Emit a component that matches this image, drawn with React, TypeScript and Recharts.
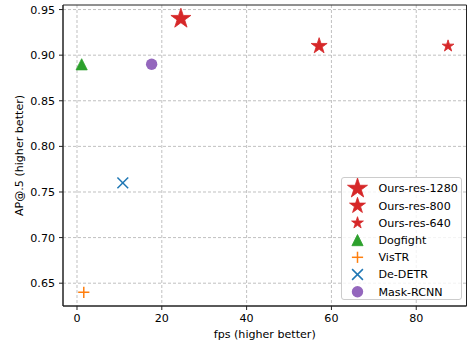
import React from "react";
import {
  ScatterChart,
  Scatter,
  XAxis,
  YAxis,
  CartesianGrid,
  ReferenceArea,
} from "recharts";

const methods = [
  "Ours-res-1280",
  "Ours-res-800",
  "Ours-res-640",
  "Dogfight",
  "VisTR",
  "De-DETR",
  "Mask-RCNN",
];
const fpsValues = [24.5, 57.1, 87.5, 1.1, 1.6, 10.8, 17.6];
const apValues = [0.94, 0.91, 0.91, 0.89, 0.64, 0.76, 0.89];
const xTicks = [0, 20, 40, 60, 80];
const yTicks = [0.65, 0.7, 0.75, 0.8, 0.85, 0.9, 0.95];
const xDomain: [number, number] = [-3.3, 91.85];
const yDomain: [number, number] = [0.625, 0.955];

// marker style per method (kind, colour, size)
const markerStyles = [
  { kind: "star", color: "#d62728", size: 10.5 },
  { kind: "star", color: "#d62728", size: 8.4 },
  { kind: "star", color: "#d62728", size: 6.2 },
  { kind: "triangle", color: "#2ca02c", size: 5.6 },
  { kind: "plus", color: "#ff7f0e", size: 5.6 },
  { kind: "x", color: "#1f77b4", size: 5.4 },
  { kind: "circle", color: "#9467bd", size: 5.7 },
];

const FONT = "DejaVu Sans, sans-serif";
const FS = 11.1;

function Marker({ kind, color, size, cx, cy }: any) {
  if (kind === "star") {
    const pts: string[] = [];
    for (let i = 0; i < 10; i++) {
      const r = i % 2 === 0 ? size : size * 0.382;
      const a = (-90 + i * 36) * (Math.PI / 180);
      pts.push(`${cx + r * Math.cos(a)},${cy + r * Math.sin(a)}`);
    }
    return <polygon points={pts.join(" ")} fill={color} stroke={color} strokeWidth={0.8} />;
  }
  if (kind === "triangle") {
    const s = size;
    return (
      <polygon
        points={`${cx},${cy - s} ${cx - s},${cy + s} ${cx + s},${cy + s}`}
        fill={color}
        stroke={color}
        strokeWidth={0.8}
      />
    );
  }
  if (kind === "plus") {
    return (
      <g stroke={color} strokeWidth={1.5}>
        <line x1={cx - size} y1={cy} x2={cx + size} y2={cy} />
        <line x1={cx} y1={cy - size} x2={cx} y2={cy + size} />
      </g>
    );
  }
  if (kind === "x") {
    return (
      <g stroke={color} strokeWidth={1.5}>
        <line x1={cx - size} y1={cy - size} x2={cx + size} y2={cy + size} />
        <line x1={cx - size} y1={cy + size} x2={cx + size} y2={cy - size} />
      </g>
    );
  }
  return <circle cx={cx} cy={cy} r={size} fill={color} />;
}

function LegendBox() {
  return (
    <div
      style={{
        position: "absolute",
        left: 341,
        top: 177,
        width: 121,
        height: 123,
        border: "1px solid #cccccc",
        borderRadius: 3,
        background: "rgba(255,255,255,0.8)",
        boxSizing: "border-box",
      }}
    >
      <svg width={121} height={123} style={{ display: "block" }}>
        {methods.map((m, i) => {
          const cy = 10.5 + i * 17.2;
          return (
            <g key={m}>
              <Marker {...markerStyles[i]} cx={15.5} cy={cy} />
              <text
                x={36.5}
                y={cy}
                dy="0.36em"
                fontSize={FS}
                fontFamily={FONT}
                fill="#000"
              >
                {m}
              </text>
            </g>
          );
        })}
      </svg>
    </div>
  );
}

export default function App() {
  return (
    <div style={{ position: "absolute", left: 0, top: 0, width: 471, height: 345, background: "#fff" }}>
      <ScatterChart
        width={471}
        height={345}
        margin={{ top: 5, right: 4.5, left: 0, bottom: 0 }}
      >
        <CartesianGrid
          stroke="#b0b0b0"
          strokeDasharray="3 2"
          strokeWidth={0.8}
          verticalValues={xTicks}
          horizontalValues={yTicks}
        />
        <XAxis
          type="number"
          dataKey="x"
          domain={xDomain}
          ticks={xTicks}
          allowDataOverflow
          height={39}
          tickSize={4}
          tickMargin={4}
          axisLine={{ stroke: "#222" }}
          tickLine={{ stroke: "#222" }}
          tick={{ fill: "#000", fontSize: FS, fontFamily: FONT }}
          label={{
            value: "fps (higher better)",
            position: "insideBottom",
            offset: 7.5,
            fill: "#000",
            fontSize: FS,
            fontFamily: FONT,
          }}
        />
        <YAxis
          type="number"
          dataKey="y"
          domain={yDomain}
          ticks={yTicks}
          allowDataOverflow
          width={63}
          tickSize={4}
          tickMargin={4}
          tickFormatter={(v: number) => v.toFixed(2)}
          axisLine={{ stroke: "#222" }}
          tickLine={{ stroke: "#222" }}
          tick={{ fill: "#000", fontSize: FS, fontFamily: FONT }}
          label={{
            content: ({ viewBox }: any) => {
              const cy = viewBox.y + viewBox.height / 2;
              return (
                <text
                  x={19.5}
                  y={cy}
                  transform={`rotate(-90, 19.5, ${cy})`}
                  textAnchor="middle"
                  dominantBaseline="central"
                  fontSize={FS}
                  fontFamily={FONT}
                  fill="#000"
                >
                  AP@.5 (higher better)
                </text>
              );
            },
          }}
        />
        <ReferenceArea
          x1={xDomain[0]}
          x2={xDomain[1]}
          y1={yDomain[0]}
          y2={yDomain[1]}
          fill="none"
          stroke="#222"
          strokeWidth={1}
          ifOverflow="visible"
        />
        {methods.map((m, i) => (
          <Scatter
            key={m}
            name={m}
            data={[{ x: fpsValues[i], y: apValues[i] }]}
            isAnimationActive={false}
            shape={(p: any) => <Marker {...markerStyles[i]} cx={p.cx} cy={p.cy} />}
          />
        ))}
      </ScatterChart>
      <LegendBox />
    </div>
  );
}
